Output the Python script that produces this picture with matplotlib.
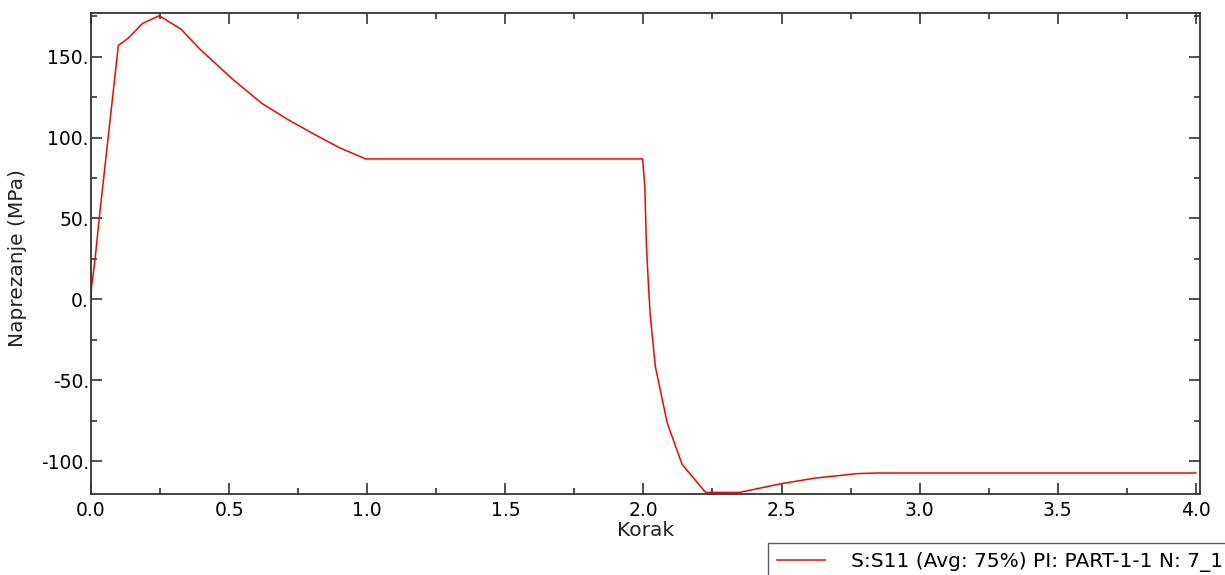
import numpy as np
import matplotlib.pyplot as plt
from matplotlib.ticker import MultipleLocator, FuncFormatter

# S11 stress history
korak = [0.0, 0.002, 0.0145, 0.029, 0.099, 0.134, 0.187, 0.247, 0.326, 0.395,
         0.516, 0.618, 0.715, 0.812, 0.902, 0.995, 1.5, 1.997, 2.005, 2.011,
         2.019, 2.025, 2.043, 2.086, 2.14, 2.225, 2.349, 2.496, 2.62, 2.774,
         2.853, 3.5, 4.0]
napon = [0.0, 8.0, 24.5, 49.0, 157.0, 161.3, 170.6, 175.3, 167.0, 154.5,
         135.6, 121.2, 110.9, 101.7, 93.5, 86.8, 86.8, 86.8, 69.8, 32.7,
         6.0, -10.5, -41.4, -76.3, -102.0, -119.3, -119.3, -114.0, -110.5, -107.7,
         -107.3, -107.3, -107.3]
legenda = "S:S11 (Avg: 75%) PI: PART-1-1 N: 7_1"

plt.rcParams['font.family'] = ['DejaVu Sans']
fig = plt.figure(figsize=(12.25, 5.75), dpi=100)
ax = fig.add_axes([91 / 1225, 1 - 494 / 575, (1200 - 91) / 1225, (494 - 13.3) / 575])

ax.plot(korak, napon, color='#ff0000', lw=1.1, label=legenda)

ax.set_xlim(0, 4.015)
ax.set_ylim(-120.3, 176.8)
ax.xaxis.set_major_locator(MultipleLocator(0.5))
ax.xaxis.set_minor_locator(MultipleLocator(0.25))
ax.yaxis.set_major_locator(MultipleLocator(50))
ax.yaxis.set_minor_locator(MultipleLocator(25))
ax.xaxis.set_major_formatter(FuncFormatter(lambda v, p: f"{v:.1f}"))
ax.yaxis.set_major_formatter(FuncFormatter(lambda v, p: f"{v:.0f}."))

ax.tick_params(which='both', direction='in', top=True, right=True, color='#333333', labelsize=13.5)
ax.tick_params(which='major', length=8, width=1.2)
ax.tick_params(which='minor', length=4, width=1.2)
ax.tick_params(axis='y', pad=1.5)
ax.tick_params(axis='x', pad=5)
for s in ax.spines.values():
    s.set_linewidth(1.3)
    s.set_color('#333333')

ax.set_xlabel("Korak", fontsize=14.5, color='#222222', labelpad=1)
ax.set_ylabel("Naprezanje (MPa)", fontsize=14.5, color='#222222')
ax.yaxis.set_label_coords(-0.058, 0.49)

leg = ax.legend(loc='upper left', bbox_to_anchor=(768 / 1225, 1 - 543 / 575),
                bbox_transform=fig.transFigure, fontsize=14.5, frameon=True,
                fancybox=False, borderaxespad=0, handlelength=2.4, handletextpad=1.25,
                borderpad=0.45)
leg.get_frame().set_edgecolor('#333333')
leg.get_frame().set_linewidth(1.0)

fig.savefig('out.png', dpi=100)
